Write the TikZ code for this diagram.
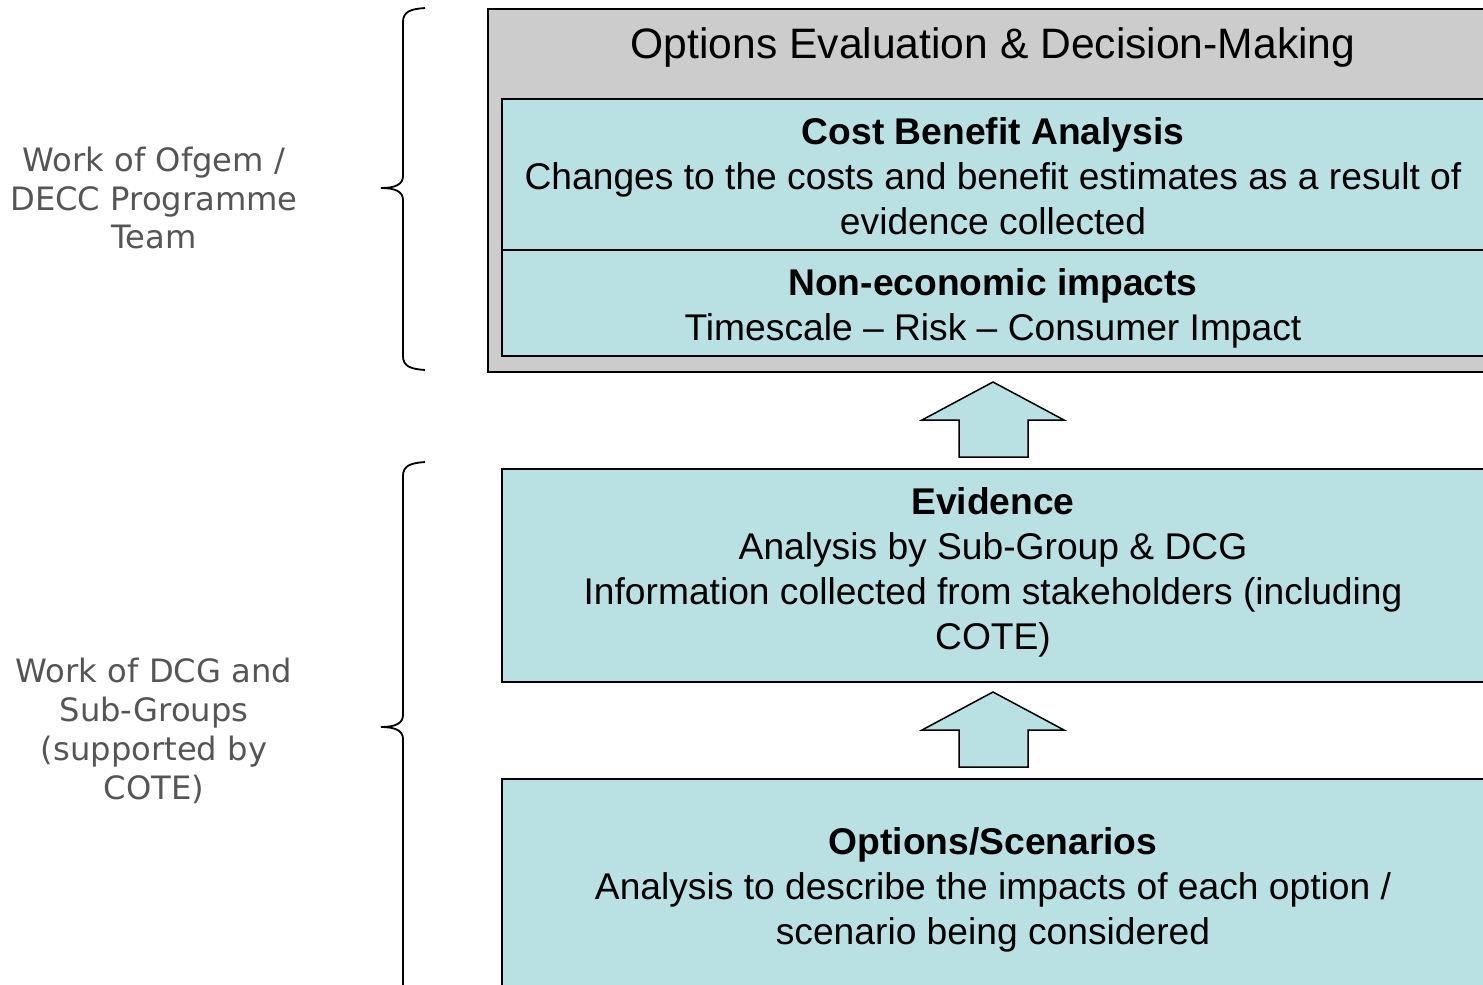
\documentclass[tikz,border=0pt]{standalone}
\usepackage{fontspec}
\setmainfont{Liberation Sans}
\newfontfamily\verd{DejaVu Sans}
\definecolor{boxblue}{HTML}{B9E0E3}
\definecolor{boxgray}{HTML}{CCCCCC}
\definecolor{sidegray}{HTML}{555555}
\begin{document}
\begin{tikzpicture}[x=1pt,y=-1pt,
  panel/.style={draw=black, line width=1.8pt, fill=boxblue, inner sep=0pt, anchor=north west, minimum width=990pt},
  outer/.style={draw=black, line width=1.8pt, fill=boxgray, inner sep=0pt, anchor=north west},
  txt/.style={align=center, inner sep=0pt, font=\fontsize{37.2}{45}\selectfont},
  titletxt/.style={align=center, inner sep=0pt, font=\fontsize{42.6}{48}\selectfont},
  side/.style={align=center, inner sep=0pt, text=sidegray, font=\verd\fontsize{32.2}{38.8}\selectfont},
  brace/.style={draw=black, line width=1.8pt},
  blockarrow/.style={draw=black, line width=1.5pt, fill=boxblue, line join=miter}]
\useasboundingbox (0,0) rectangle (1483,985);
% outer gray panel
\node[outer, minimum width=1010pt, minimum height=363pt] (outerbox) at (487,8) {};
\node[titletxt] (title) at (993,47.5) {Options Evaluation \& Decision-Making};
% boxes
\node[panel, minimum height=151pt] (cba) at (501,98) {};
\node[panel, minimum height=106pt] (nei) at (501,249) {};
\node[panel, minimum height=213pt] (evi) at (501,468) {};
\node[panel, minimum height=230pt] (opt) at (501,778) {};
% texts
\node[txt] (cbat) at (993,176) {\textbf{Cost Benefit Analysis}\\Changes to the costs and benefit estimates as a result of\\evidence collected};
\node[txt] (neit) at (993,308.5) {\textbf{Non-economic impacts}\\Timescale – Risk – Consumer Impact};
\node[txt] (evit) at (993,572) {\textbf{Evidence}\\Analysis by Sub-Group \& DCG\\Information collected from stakeholders (including\\COTE)};
\node[txt] (optt) at (993,889.5) {\textbf{Options/Scenarios}\\Analysis to describe the impacts of each option /\\scenario being considered};
% block arrows
\draw[blockarrow] (993,382) -- (1064,420) -- (1028,420) -- (1028,457) -- (959,457) -- (959,420) -- (922,420) -- cycle;
\draw[blockarrow] (993,692) -- (1064,730) -- (1028,730) -- (1028,767) -- (959,767) -- (959,730) -- (922,730) -- cycle;
% braces
\coordinate (b1top) at (425,8);
\coordinate (b1tip) at (381,188);
\coordinate (b1bot) at (425,370);
\draw[brace] (b1top) .. controls (410,9) and (403,12) .. (403,22) -- (403,176) .. controls (403,184) and (396,188) .. (b1tip) .. controls (396,188) and (403,192) .. (403,200) -- (403,356) .. controls (403,366) and (410,369) .. (b1bot);
\coordinate (b2top) at (425,462);
\coordinate (b2tip) at (381,727);
\coordinate (b2bot) at (403,990);
\draw[brace] (b2top) .. controls (410,463) and (403,466) .. (403,476) -- (403,715) .. controls (403,723) and (396,727) .. (b2tip) .. controls (396,727) and (403,731) .. (403,739) -- (b2bot);
% side labels
\node[side] (s1) at (154,198) {Work of Ofgem /\\DECC Programme\\Team};
\node[side] (s2) at (154,731) {Work of DCG and\\Sub-Groups\\(supported by\\COTE)};
\end{tikzpicture}
\end{document}
